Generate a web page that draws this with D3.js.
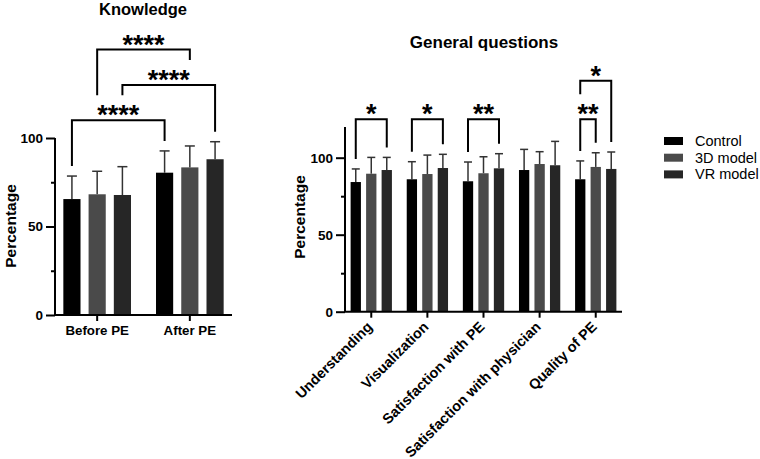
<!DOCTYPE html>
<html><head><meta charset="utf-8">
<script src="https://cdn.jsdelivr.net/npm/d3@7"></script>
<style>body{margin:0;background:#fff}svg{display:block}text{font-family:"Liberation Sans",Arial,sans-serif}</style>
</head><body><svg id="c" width="760" height="459"></svg>
<script>
const series = ["Control","3D model","VR model"];
const colors = ["#000000","#4a4a4a","#262626"];

const knowCats = ["Before PE","After PE"];
const knowMean = { "Control":[65.5,80.4], "3D model":[68.2,83.4], "VR model":[67.8,88.0] };
const knowErr  = { "Control":[78.5,92.7], "3D model":[81.2,95.5], "VR model":[83.8,97.9] };
const knowTicks = [0,25,50,75,100];
const knowLabels = [0,50,100];
const knowSig = [
  {c1:"Before PE",s1:"Control",c2:"After PE",s2:"Control",level:110,label:"****"},
  {c1:"Before PE",s1:"VR model",c2:"After PE",s2:"VR model",level:130,label:"****"},
  {c1:"Before PE",s1:"3D model",c2:"After PE",s2:"3D model",level:150,label:"****"}
];

const genCats = ["Understanding","Visualization","Satisfaction with PE","Satisfaction with physician","Quality of PE"];
const genMean = { "Control":[84.2,86.0,84.7,92.0,86.0], "3D model":[89.6,89.4,89.9,95.9,94.0], "VR model":[92.0,93.3,93.1,95.1,92.7] };
const genErr  = { "Control":[92.7,97.4,97.2,105.4,97.9], "3D model":[100.2,101.7,100.6,103.9,103.2], "VR model":[100.2,102.2,102.6,110.6,103.7] };
const genTicks = [0,25,50,75,100];
const genLabels = [0,50,100];
const genSig = [
  {c1:"Understanding",s1:"Control",c2:"Understanding",s2:"VR model",level:125,label:"*"},
  {c1:"Visualization",s1:"Control",c2:"Visualization",s2:"VR model",level:125,label:"*"},
  {c1:"Satisfaction with PE",s1:"Control",c2:"Satisfaction with PE",s2:"VR model",level:125,label:"**"},
  {c1:"Quality of PE",s1:"Control",c2:"Quality of PE",s2:"3D model",level:125,label:"**"},
  {c1:"Quality of PE",s1:"Control",c2:"Quality of PE",s2:"VR model",level:150,label:"*"}
];

const svg = d3.select("#c");

function panel(o){
  const g = svg.append("g");
  const x = d3.scaleBand().domain(o.cats).range([o.x0,o.x1]).paddingInner(o.pi).paddingOuter(o.po);
  const xs = d3.scaleBand().domain(series).range([0,x.bandwidth()]).paddingInner(o.spi).paddingOuter(0);
  const y = d3.scaleLinear().domain([0,o.ymax]).range([o.y0,o.y1]);
  const cx = (c,s)=> x(c)+xs(s)+xs.bandwidth()/2;

  series.forEach((s,si)=>{
    o.cats.forEach((c,ci)=>{
      const v=o.mean[s][ci], e=o.err[s][ci];
      g.append("line").attr("x1",cx(c,s)).attr("x2",cx(c,s)).attr("y1",y(v)).attr("y2",y(e))
        .attr("stroke","#333").attr("stroke-width",1.5);
      g.append("line").attr("x1",cx(c,s)-o.cap).attr("x2",cx(c,s)+o.cap).attr("y1",y(e)).attr("y2",y(e))
        .attr("stroke","#333").attr("stroke-width",1.5);
      g.append("rect").attr("x",x(c)+xs(s)).attr("width",xs.bandwidth())
        .attr("y",y(v)).attr("height",y(0)-y(v)).attr("fill",colors[si]);
    });
  });

  const ya = g.append("g").attr("transform",`translate(${o.x0},0)`)
    .call(d3.axisLeft(y).tickValues(o.ticks).tickSize(8).tickFormat(d=>o.labels.includes(d)?d:""));
  ya.select(".domain").attr("stroke-width",2).attr("d",`M0,${o.y0}V${y(o.ymax)}`);
  ya.selectAll(".tick line").attr("stroke-width",2).attr("x2",d=>o.labels.includes(d)?-9:-4);
  ya.selectAll(".tick text").attr("font-size",13.5).attr("font-weight","bold").attr("fill","#000").attr("x",-12);

  const xa = g.append("g").attr("transform",`translate(0,${o.y0})`)
    .call(d3.axisBottom(x).tickSize(6).tickSizeOuter(0));
  xa.select(".domain").attr("stroke-width",2).attr("d",`M${o.x0-1},0H${o.x1}`);
  xa.selectAll(".tick line").attr("stroke-width",2);
  const xt = xa.selectAll(".tick text").attr("font-weight","bold").attr("fill","#000");
  if(o.rot){
    xt.attr("font-size",14.4).attr("text-anchor","end").attr("dy",0).attr("y",0)
      .attr("transform","translate(2,16) rotate(-45)");
  } else {
    xt.attr("font-size",13.3).attr("y",11).attr("dy","0.71em");
  }

  g.append("text").attr("x",o.tx).attr("y",o.ty).attr("text-anchor","middle")
    .attr("font-size",o.tfs).attr("font-weight","bold").text(o.title);
  g.append("text").attr("transform",`translate(${o.lx},${o.ly}) rotate(-90)`)
    .attr("text-anchor","middle").attr("font-size",15.5).attr("font-weight","bold").text("Percentage");

  const lines = o.sig.map(b=>({x1:cx(b.c1,b.s1),x2:cx(b.c2,b.s2),yl:y(b.level)}));
  o.sig.forEach((b,i)=>{
    const L=lines[i];
    const legEnd=(c,s,px)=>{
      let lim = y(o.err[s][o.cats.indexOf(c)]) - 10;
      lines.forEach((M,j)=>{ if(j!==i && M.yl>L.yl && px>=M.x1-1 && px<=M.x2+1) lim=Math.min(lim,M.yl-25); });
      return lim;
    };
    g.append("path").attr("fill","none").attr("stroke","#000").attr("stroke-width",2)
      .attr("d",`M${L.x1},${legEnd(b.c1,b.s1,L.x1)}V${L.yl}H${L.x2}V${legEnd(b.c2,b.s2,L.x2)}`);
    g.append("text").attr("x",(L.x1+L.x2)/2).attr("y",L.yl+4).attr("text-anchor","middle")
      .attr("font-size",27).attr("font-weight","bold").text(b.label);
  });
}

panel({cats:knowCats,mean:knowMean,err:knowErr,ticks:knowTicks,labels:knowLabels,sig:knowSig,
  x0:55,x1:232,pi:0.27,po:0.09,spi:0.32,y0:315,y1:138,ymax:100,cap:5,
  title:"Knowledge",tx:143,ty:15,tfs:16.5,lx:16,ly:226,rot:false});
panel({cats:genCats,mean:genMean,err:genErr,ticks:genTicks,labels:genLabels,sig:genSig,
  x0:345,x1:622,pi:0.264,po:0.1,spi:0.335,y0:311.7,y1:126.9,ymax:120,cap:4,
  title:"General questions",tx:484,ty:48,tfs:17,lx:305,ly:217,rot:true});

const lg = svg.append("g");
series.forEach((s,i)=>{
  const yy = 141 + i*16.7;
  lg.append("rect").attr("x",664).attr("y",yy-4).attr("width",19).attr("height",8).attr("fill",colors[i]);
  lg.append("text").attr("x",695).attr("y",yy).attr("dy","0.35em").attr("font-size",14.5).text(s);
});
</script></body></html>
